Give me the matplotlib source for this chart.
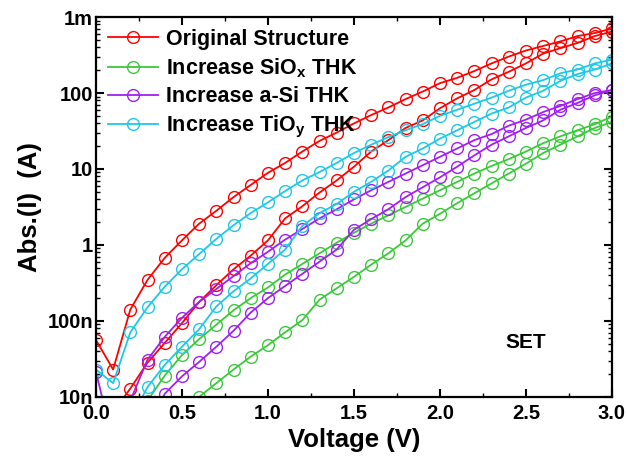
import matplotlib
matplotlib.use("Agg")
import matplotlib.pyplot as plt
import numpy as np
from matplotlib.ticker import FixedLocator, FixedFormatter, MultipleLocator, LogLocator, NullFormatter

plt.rcParams['font.family'] = ['Liberation Sans', 'DejaVu Sans']
plt.rcParams['font.weight'] = 'bold'
plt.rcParams['mathtext.fontset'] = 'custom'
plt.rcParams['mathtext.rm'] = 'Liberation Sans:bold'
plt.rcParams['mathtext.bf'] = 'Liberation Sans:bold'

# voltage sweep, 0.1 V steps
voltage = np.round(np.arange(0, 3.01, 0.1), 1)

# log10(|I|), nan = no point
nan = np.nan
orig_hi = [-7.25, -7.64, -6.85, -6.46, -6.17, -5.94, -5.72, -5.55, -5.37, -5.21, -5.05,
           -4.92, -4.77, -4.63, -4.52, -4.40, -4.29, -4.19, -4.08, -3.98, -3.87,
           -3.80, -3.71, -3.61, -3.52, -3.44, -3.38, -3.32, -3.25, -3.21, -3.15]
orig_lo = [nan, -8.2, -7.89, -7.55, -7.29, -7.03, -6.75, -6.53, -6.32, -6.14, -5.94,
           -5.65, -5.49, -5.31, -5.15, -4.97, -4.77, -4.62, -4.46, -4.36, -4.20,
           -4.07, -3.96, -3.82, -3.72, -3.61, -3.48, -3.41, -3.34, -3.25, -3.19]
sio_hi = [nan, nan, nan, -8.05, -7.72, -7.45, -7.24, -7.05, -6.86, -6.70, -6.56,
          -6.39, -6.25, -6.11, -5.97, -5.84, -5.72, -5.61, -5.50, -5.39, -5.28,
          -5.17, -5.06, -4.96, -4.87, -4.77, -4.66, -4.57, -4.49, -4.41, -4.31]
sio_lo = [nan, nan, nan, nan, nan, -8.3, -8.0, -7.82, -7.64, -7.47, -7.32,
          -7.15, -6.99, -6.72, -6.57, -6.42, -6.26, -6.11, -5.94, -5.72, -5.59,
          -5.45, -5.32, -5.19, -5.06, -4.93, -4.79, -4.68, -4.57, -4.46, -4.38]
asi_hi = [-7.67, -8.6, -8.05, -7.51, -7.21, -6.96, -6.75, -6.58, -6.41, -6.24, -6.09,
          -5.93, -5.79, -5.65, -5.53, -5.40, -5.28, -5.17, -5.06, -4.95, -4.84,
          -4.73, -4.62, -4.54, -4.43, -4.35, -4.25, -4.17, -4.08, -4.00, -3.96]
asi_lo = [nan, nan, nan, -8.4, -7.96, -7.73, -7.54, -7.34, -7.13, -6.89, -6.70,
          -6.54, -6.38, -6.22, -6.06, -5.80, -5.66, -5.53, -5.37, -5.24, -5.11,
          -4.97, -4.82, -4.68, -4.57, -4.46, -4.36, -4.22, -4.13, -4.03, -3.96]
tio_hi = [-7.64, -7.82, -7.15, -6.82, -6.55, -6.32, -6.12, -5.92, -5.74, -5.58, -5.44,
          -5.29, -5.15, -5.04, -4.92, -4.79, -4.68, -4.58, -4.49, -4.41, -4.30,
          -4.22, -4.14, -4.06, -3.97, -3.89, -3.83, -3.74, -3.69, -3.61, -3.56]
tio_lo = [nan, nan, -8.3, -7.87, -7.58, -7.34, -7.11, -6.81, -6.61, -6.44, -6.25,
          -6.06, -5.75, -5.58, -5.46, -5.30, -5.17, -5.02, -4.84, -4.73, -4.60,
          -4.49, -4.38, -4.27, -4.19, -4.06, -3.97, -3.84, -3.75, -3.69, -3.61]

labels = ['Original Structure', r'Increase SiO$_\mathbf{x}$ THK',
          'Increase a-Si THK', r'Increase TiO$_\mathbf{y}$ THK']
colors = ['#ff0000', '#3cc83c', '#a020f0', '#1ec8e6']
series = [(orig_hi, orig_lo), (sio_hi, sio_lo), (asi_hi, asi_lo), (tio_hi, tio_lo)]

yticks = [1e-8, 1e-7, 1e-6, 1e-5, 1e-4, 1e-3]
ytick_labels = ['10n', '100n', '1', '10', '100', '1m']

fig = plt.figure(figsize=(6.27, 4.62), dpi=100)
ax = fig.add_axes([0.153, 0.141, 0.823, 0.822])

style = dict(marker='o', markersize=8.5, markerfacecolor='none', markeredgewidth=1.0,
             linewidth=1.3)
for (hi, lo), c, lab in zip(series, colors, labels):
    ax.plot(voltage, 10 ** np.array(hi), color=c, label=lab, **style)
    ax.plot(voltage, 10 ** np.array(lo), color=c, **style)

ax.set_yscale('log')
ax.set_xlim(0, 3.0)
ax.set_ylim(1e-8, 1e-3)
ax.xaxis.set_major_locator(MultipleLocator(0.5))
ax.xaxis.set_minor_locator(MultipleLocator(0.25))
ax.xaxis.set_major_formatter(plt.FormatStrFormatter('%.1f'))
ax.yaxis.set_major_locator(FixedLocator(yticks))
ax.yaxis.set_major_formatter(FixedFormatter(ytick_labels))
ax.yaxis.set_minor_locator(LogLocator(base=10, subs=np.arange(2, 10)))
ax.yaxis.set_minor_formatter(NullFormatter())

ax.tick_params(which='both', direction='in', top=True, right=True, labelsize=14.5)
ax.tick_params(which='major', length=6, width=1.5, pad=2)
ax.tick_params(axis='x', which='major', pad=5)
ax.tick_params(which='minor', length=3, width=1.0)
for s in ax.spines.values():
    s.set_linewidth(1.6)

ax.set_xlabel('Voltage (V)', fontsize=18.5, fontweight='bold', labelpad=4)
ax.set_ylabel('Abs.(I)  (A)', fontsize=18.5, fontweight='bold', labelpad=4)

ax.text(2.5, 10 ** -7.29, 'SET', fontsize=15, fontweight='bold', ha='center', va='center')

ax.legend(loc='upper left', frameon=False, fontsize=15.5, handlelength=2.35,
          labelspacing=0.3, borderaxespad=0.15, handletextpad=0.35,
          bbox_to_anchor=(0.0, 1.0))

fig.savefig('out.png', dpi=100)
